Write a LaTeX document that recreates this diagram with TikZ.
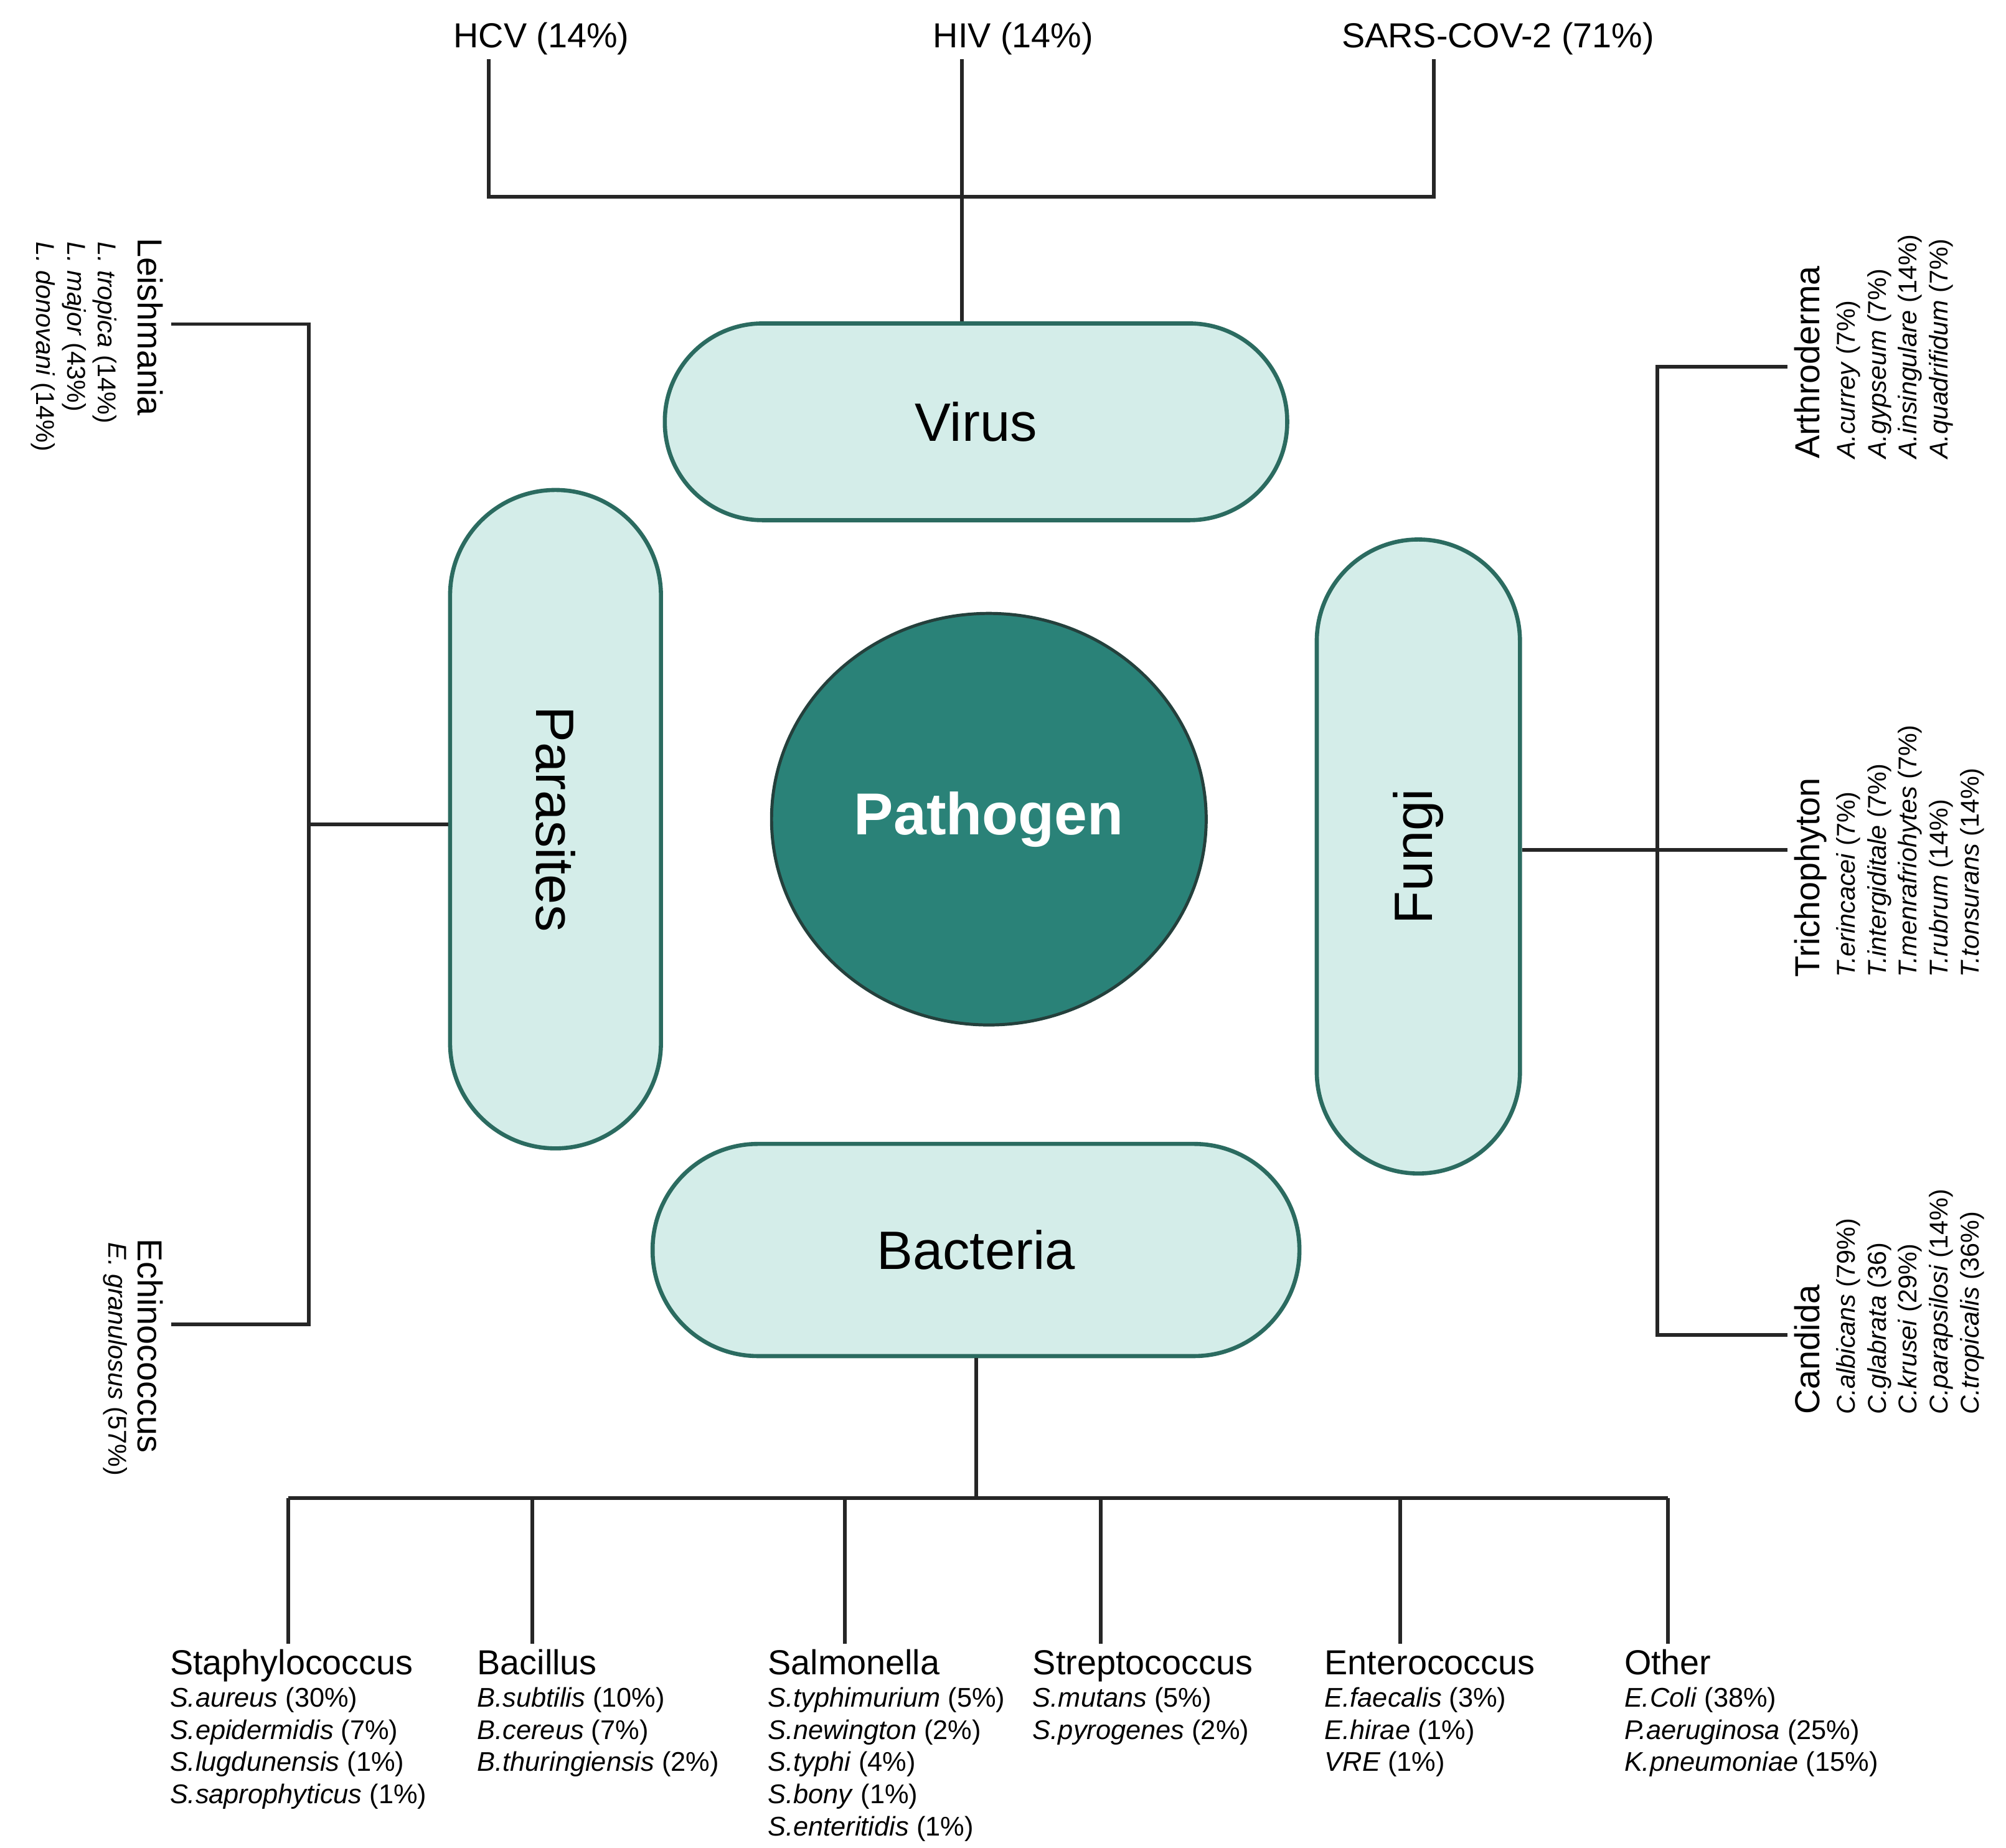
\documentclass[tikz,border=0pt]{standalone}
\usepackage{fontspec}
\setmainfont{Liberation Sans}
\usetikzlibrary{shapes.geometric}
\begin{document}
\definecolor{boxfill}{HTML}{D4EDE9}
\definecolor{boxline}{HTML}{2B6B60}
\definecolor{core}{HTML}{2A8278}
\definecolor{coreline}{HTML}{24403C}
\begin{tikzpicture}[x=1pt,y=-1pt,
  conn/.style={line width=2.8pt,draw=black!85},
  pill/.style={draw=boxline,fill=boxfill,line width=3.2pt,inner sep=0},
  top/.style={font=\fontsize{27}{31}\selectfont},
  hdr/.style={font=\fontsize{27}{31}\selectfont,inner sep=0},
  spc/.style={font=\fontsize{20}{24}\selectfont,inner sep=0,align=left},
  bsp/.style={font=\fontsize{21}{25}\selectfont,inner sep=0,align=left}]
\useasboundingbox (0,0) rectangle (1560,1437);
% top viruses
\node[top] (hcv) at (421,30) {HCV (14\%)};
\node[top] (hiv) at (788,30) {HIV (14\%)};
\node[top] (sars) at (1165,30) {SARS-COV-2 (71\%)};
% pills
\node[pill,rectangle,rounded corners=76pt,minimum width=484pt,minimum height=153pt,font=\fontsize{42}{50}\selectfont] (virus) at (759,328) {Virus};
\node[pill,rectangle,rounded corners=82pt,minimum width=164pt,minimum height=512pt] (para) at (432,637) {};
\node[font=\fontsize{42}{50}\selectfont,rotate=-90] (paratxt) at (432,637) {Parasites};
\node[pill,rectangle,rounded corners=79pt,minimum width=158pt,minimum height=493pt] (fungi) at (1103,666) {};
\node[font=\fontsize{42}{50}\selectfont,rotate=90] (fungitxt) at (1103,666) {Fungi};
\node[pill,rectangle,rounded corners=82pt,minimum width=503pt,minimum height=165pt,font=\fontsize{42}{50}\selectfont] (bact) at (759,972) {Bacteria};
\node[ellipse,draw=coreline,fill=core,line width=2.4pt,minimum width=338pt,minimum height=320pt,text=white,font=\bfseries\fontsize{46}{54}\selectfont] (path) at (769,637) {Pathogen};
% virus connectors
\coordinate (vj1) at (380,153);
\coordinate (vj2) at (1115,153);
\coordinate (vjm) at (748,153);
\draw[conn] (hcv.south -| vj1) |- (vj2) -- (sars.south -| vj2);
\draw[conn] (hiv.south -| vjm) -- (vjm |- virus.north);
% parasite connectors
\coordinate (pj) at (240,641);
\coordinate (pt1) at (240,252);
\coordinate (pt2) at (240,1030);
\coordinate (pl1) at (133,252);
\coordinate (pl2) at (133,1030);
\draw[conn] (para.west |- pj) -- (pj);
\draw[conn] (pl1) -- (pt1) -- (pt2) -- (pl2);
% fungi connectors
\coordinate (fj) at (1289,661);
\coordinate (ft1) at (1289,285);
\coordinate (ft2) at (1289,1038);
\coordinate (fr1) at (1390,285);
\coordinate (fr2) at (1390,1038);
\coordinate (frm) at (1390,661);
\draw[conn] (fungi.east |- fj) -- (frm);
\draw[conn] (fr1) -- (ft1) -- (ft2) -- (fr2);
% bacteria connectors
\coordinate (bj) at (759,1165);
\draw[conn] (bact.south -| bj) -- (bj);
\draw[conn] (224,1165) -- (1297,1165);
\foreach \x/\n in {224/b1,414/b2,657/b3,856/b4,1089/b5,1297/b6}{
  \coordinate (\n t) at (\x,1165);
  \coordinate (\n e) at (\x,1278);
  \draw[conn] (\n t) -- (\n e);
}
% left labels
\node[hdr,rotate=-90,anchor=north west] (leish) at (127,185) {Leishmania};
\node[spc,rotate=-90,anchor=north west] (leishs) at (91,188) {\textit{L. tropica} (14\%)\\\textit{L. major} (43\%)\\\textit{L. donovani} (14\%)};
\node[hdr,rotate=-90,anchor=north west] (echi) at (127,963) {Echinococcus};
\node[spc,rotate=-90,anchor=north west] (echis) at (99,966) {\textit{E. granulosus} (57\%)};
% right labels
\node[hdr,rotate=90,anchor=north west] (arth) at (1395,357) {Arthroderma};
\node[spc,rotate=90,anchor=north west] (arths) at (1428,357) {\textit{A.currey} (7\%)\\\textit{A.gypseum} (7\%)\\\textit{A.insingulare} (14\%)\\\textit{A.quadrifidum} (7\%)};
\node[hdr,rotate=90,anchor=north west] (trich) at (1395,760) {Trichophyton};
\node[spc,rotate=90,anchor=north west] (trichs) at (1428,760) {\textit{T.erincacei} (7\%)\\\textit{T.intergiditale} (7\%)\\\textit{T.menrafriohytes} (7\%)\\\textit{T.rubrum} (14\%)\\\textit{T.tonsurans} (14\%)};
\node[hdr,rotate=90,anchor=north west] (cand) at (1395,1100) {Candida};
\node[spc,rotate=90,anchor=north west] (cands) at (1428,1100) {\textit{C.albicans} (79\%)\\\textit{C.glabrata} (36)\\\textit{C.krusei} (29\%)\\\textit{C.parapsilosi} (14\%)\\\textit{C.tropicalis} (36\%)};
% bottom labels
\foreach \x/\n/\h in {132/g1/Staphylococcus,371/g2/Bacillus,597/g3/Salmonella,803/g4/Streptococcus,1030/g5/Enterococcus,1263/g6/Other}{
  \node[hdr,anchor=base west] (\n) at (\x,1302) {\h};
}
\node[bsp,anchor=north west] (g1s) at (132,1312) {\textit{S.aureus} (30\%)\\\textit{S.epidermidis} (7\%)\\\textit{S.lugdunensis} (1\%)\\\textit{S.saprophyticus} (1\%)};
\node[bsp,anchor=north west] (g2s) at (371,1312) {\textit{B.subtilis} (10\%)\\\textit{B.cereus} (7\%)\\\textit{B.thuringiensis} (2\%)};
\node[bsp,anchor=north west] (g3s) at (597,1312) {\textit{S.typhimurium} (5\%)\\\textit{S.newington} (2\%)\\\textit{S.typhi} (4\%)\\\textit{S.bony} (1\%)\\\textit{S.enteritidis} (1\%)};
\node[bsp,anchor=north west] (g4s) at (803,1312) {\textit{S.mutans} (5\%)\\\textit{S.pyrogenes} (2\%)};
\node[bsp,anchor=north west] (g5s) at (1030,1312) {\textit{E.faecalis} (3\%)\\\textit{E.hirae} (1\%)\\\textit{VRE} (1\%)};
\node[bsp,anchor=north west] (g6s) at (1263,1312) {\textit{E.Coli} (38\%)\\\textit{P.aeruginosa} (25\%)\\\textit{K.pneumoniae} (15\%)};
\end{tikzpicture}
\end{document}
